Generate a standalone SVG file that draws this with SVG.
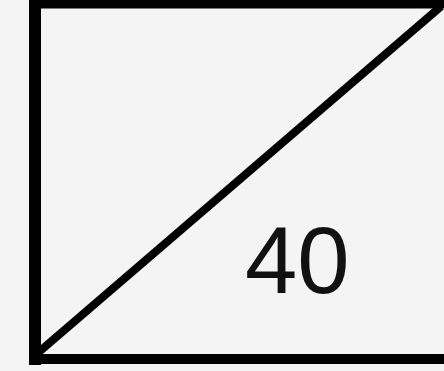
<svg xmlns="http://www.w3.org/2000/svg" width="444" height="371" viewBox="0 0 444 371">
<style>
.ln{stroke:#000;fill:none;stroke-linecap:square}
.t{font-family:"Liberation Sans",Arial,sans-serif;font-size:94px;fill:#111}
</style>
<rect width="444" height="371" fill="#f4f4f4"/>
<g id="box">
<line class="ln" x1="35" y1="4" x2="444" y2="4" stroke-width="9"/>
<line class="ln" x1="35" y1="4" x2="35" y2="359" stroke-width="12"/>
<line class="ln" x1="35" y1="359" x2="444" y2="359" stroke-width="10"/>
</g>
<g id="connectors">
<line class="ln" x1="40" y1="351" x2="438" y2="9" stroke-width="8"/>
</g>
<g id="label">
<text class="t" x="245" y="293">40</text>
</g>
</svg>
